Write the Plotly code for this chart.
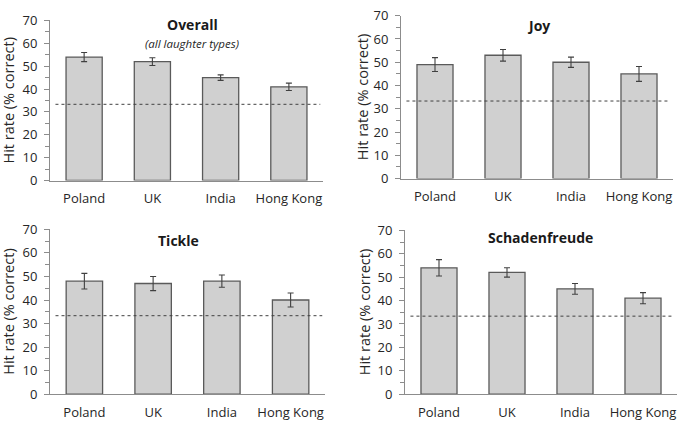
import plotly.graph_objects as go

countries = ["Poland", "UK", "India", "Hong Kong"]
chance = 100 / 3

overall = [54, 52, 45, 41]
overall_err = [2.0, 1.7, 1.2, 1.6]
joy = [49, 53, 50, 45]
joy_err = [3.0, 2.5, 2.2, 3.2]
tickle = [48, 47, 48, 40]
tickle_err = [3.3, 3.0, 2.6, 3.0]
schaden = [54, 52, 45, 41]
schaden_err = [3.5, 2.0, 2.3, 2.4]

panels = [
    ("Overall", overall, overall_err),
    ("Joy", joy, joy_err),
    ("Tickle", tickle, tickle_err),
    ("Schadenfreude", schaden, schaden_err),
]

W, H = 685, 430
# pixel boxes: (left, right, top(70), bottom(0))
boxes = [(50, 323, 12, 179), (401, 673, 7, 177), (50, 325, 230, 402), (405, 677, 231, 402)]
title_pos = [(192, 16), (538, 17), (178, 242), (540, 238)]
ytitle_x = [9, 362, 9, 364]

FONT = "Open Sans"
TXT = "#262626"
AX = "#8c8c8c"

fig = go.Figure()
for i, (name, vals, errs) in enumerate(panels):
    n = i + 1
    xa = "x" if n == 1 else f"x{n}"
    ya = "y" if n == 1 else f"y{n}"
    fig.add_trace(go.Bar(
        x=countries, y=vals, xaxis=xa, yaxis=ya,
        width=0.53,
        marker=dict(color="#d0d0d0", line=dict(color="#5a5a5a", width=1.3)),
        error_y=dict(type="data", array=errs, visible=True, color="#404040",
                     thickness=1.1, width=3),
        showlegend=False, hoverinfo="skip",
    ))
    l, r, t, b = boxes[i]
    xkey = "xaxis" if n == 1 else f"xaxis{n}"
    ykey = "yaxis" if n == 1 else f"yaxis{n}"
    fig.layout[xkey] = dict(
        domain=[l / W, r / W], anchor=ya, range=[-0.5, 3.5],
        showline=True, linecolor=AX, linewidth=1, ticks="", showgrid=False,
        zeroline=False, tickfont=dict(family=FONT, size=13, color=TXT),
        ticklabelstandoff=6, fixedrange=True,
    )
    fig.layout[ykey] = dict(
        domain=[1 - b / H, 1 - t / H], anchor=xa, range=[0, 70],
        tickvals=[0, 10, 20, 30, 40, 50, 60, 70],
        showline=True, linecolor=AX, linewidth=1, ticks="outside", ticklen=5,
        tickcolor=AX, tickwidth=1, showgrid=False, zeroline=False,
        minor=dict(tickvals=[5, 15, 25, 35, 45, 55, 65], ticks="outside", ticklen=4,
                   tickcolor=AX, tickwidth=1, showgrid=False),
        tickfont=dict(family=FONT, size=13, color=TXT),
        ticklabelstandoff=4, fixedrange=True,
    )
    fig.add_shape(type="line", xref=f"{xa} domain", yref=ya,
                  x0=0.02, x1=0.99, y0=chance, y1=chance,
                  line=dict(color="#404040", width=1, dash="dot"))
    tx, ty = title_pos[i]
    fig.add_annotation(x=tx / W, y=1 - ty / H, xref="paper", yref="paper",
                       text=f"<b>{name}</b>", showarrow=False,
                       font=dict(family=FONT, size=14, color="#1a1a1a"),
                       xanchor="center", yanchor="middle")
    fig.add_annotation(x=ytitle_x[i] / W, y=1 - (t + b) / 2 / H, xref="paper", yref="paper",
                       text="Hit rate (% correct)", showarrow=False, textangle=-90,
                       font=dict(family=FONT, size=14.5, color=TXT),
                       xanchor="center", yanchor="middle")

fig.add_annotation(x=192 / W, y=1 - 36 / H, xref="paper", yref="paper",
                   text="<i>(all laughter types)</i>", showarrow=False,
                   font=dict(family=FONT, size=11.5, color=TXT),
                   xanchor="center", yanchor="middle")

fig.update_layout(width=W, height=H, margin=dict(l=0, r=0, t=0, b=0),
                  plot_bgcolor="white", paper_bgcolor="white", bargap=0.47)
fig.write_html("out.html")
